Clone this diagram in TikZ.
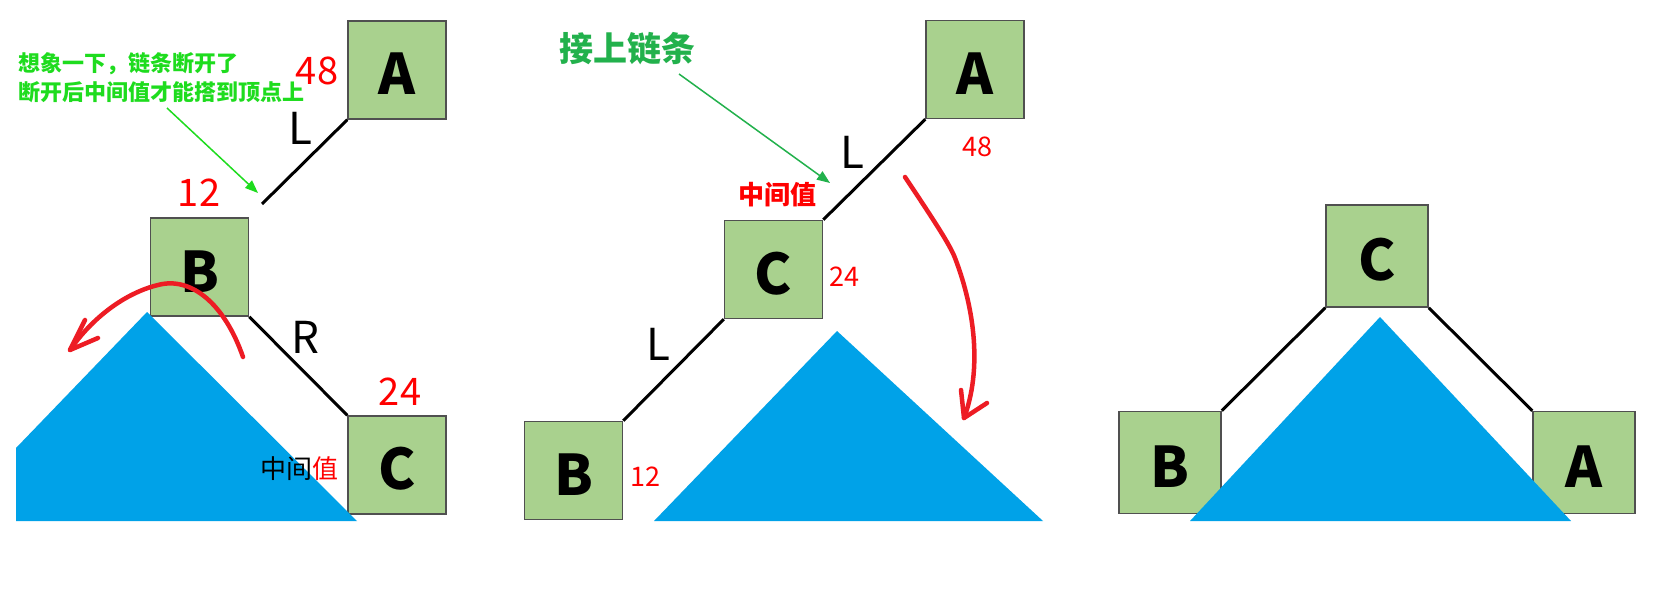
\documentclass[tikz,border=0pt]{standalone}
\usepackage{fontspec}
\setmainfont{Noto Sans CJK SC}
\usetikzlibrary{arrows.meta}
\definecolor{boxfill}{RGB}{169,209,142}
\definecolor{boxline}{RGB}{80,80,80}
\definecolor{trifill}{RGB}{0,162,232}
\definecolor{hred}{RGB}{237,28,36}
\definecolor{brightgreen}{RGB}{30,220,30}
\definecolor{darkgreen}{RGB}{34,177,76}
\begin{document}
\begin{tikzpicture}[x=1pt,y=-1pt,
  box/.style={draw=boxline, fill=boxfill, line width=1.5pt, minimum width=98pt, minimum height=98pt, inner sep=0pt, font=\fontsize{56}{60}\selectfont\bfseries, text height=50pt},
  bigbox/.style={box, minimum width=102pt, minimum height=102pt},
  link/.style={line width=3pt, black},
  trishape/.style={fill=trifill, draw=none},
  bignum/.style={text=red, font=\fontsize{38}{40}\selectfont, inner sep=0pt},
  smallnum/.style={text=red, font=\fontsize{27}{28}\selectfont, inner sep=0pt},
  edgelab/.style={font=\fontsize{44}{46}\selectfont, inner sep=0pt},
  redarc/.style={hred, line width=4.5pt, line cap=round, line join=round},
  greenarrow/.style={line width=1.5pt, -{Triangle[length=13pt,width=10pt]}},
]
\useasboundingbox (0,0) rectangle (1656,596);
\fill[white] (0,0) rectangle (1656,596);

% ---------- panel 1 ----------
\node[box] (A1) at (397,70) {A};
\node[box] (B1) at (199.5,267) {B};
\node[box] (C1) at (397,465) {C};
\coordinate (brk) at (262,204);
\draw[link] (A1.south west) -- (brk);
\draw[link] (B1.south east) -- (C1.north west);
\fill[trishape] (16,448) -- (147,312) -- (357,521) -- (16,521) -- cycle;

\node[bignum] (n48a) at (317,71) {48};
\node[bignum] (n12a) at (199,193) {12};
\node[bignum] (n24a) at (400,392) {24};
\node[edgelab] (La) at (300,128) {L};
\node[edgelab] (Ra) at (305,337) {R};
\node[font=\fontsize{26}{28}\selectfont, inner sep=0pt] (mid1) at (299,469) {中间\textcolor{red}{值}};

\node[anchor=west, align=left, text=brightgreen, font=\fontsize{22}{29}\selectfont\bfseries, inner sep=0pt] (gtext) at (18,78) {想象一下，链条断开了\\断开后中间值才能搭到顶点上};
\coordinate (g1s) at (167,108);
\coordinate (g1e) at (258,193);
\draw[greenarrow, brightgreen] (g1s) -- (g1e);

\coordinate (r1s) at (243,357);
\coordinate (r1p) at (158,285);
\coordinate (r1t) at (70,350);
\draw[redarc] (r1s) .. controls (225,305) and (192,276) .. (r1p) .. controls (125,293) and (92,318) .. (r1t);
\draw[redarc] (85,320) -- (r1t) -- (98,338);

% ---------- panel 2 ----------
\node[box] (A2) at (975,69.5) {A};
\node[box] (C2) at (773.5,269.5) {C};
\node[box] (B2) at (573.5,470.5) {B};
\draw[link] (A2.south west) -- (C2.north east);
\draw[link] (C2.south west) -- (B2.north east);
\fill[trishape] (654,521) -- (837,331) -- (1043,521) -- cycle;

\node[smallnum] (n48b) at (977,147) {48};
\node[smallnum] (n24b) at (844,277) {24};
\node[smallnum] (n12b) at (645,477) {12};
\node[edgelab] (Lb1) at (852,152) {L};
\node[edgelab] (Lb2) at (658,344) {L};
\node[text=red, font=\fontsize{26}{28}\selectfont\bfseries, inner sep=0pt] (mid2) at (777,195) {中间值};
\node[text=darkgreen, font=\fontsize{34}{36}\selectfont\bfseries, inner sep=0pt] (gtext2) at (627,49) {接上链条};
\coordinate (g2s) at (679,74);
\coordinate (g2e) at (830,183);
\draw[greenarrow, darkgreen] (g2s) -- (g2e);

\coordinate (r2s) at (905,177);
\coordinate (r2m) at (955,258);
\coordinate (r2t) at (964,418);
\draw[redarc] (r2s) .. controls (935,222) and (950,245) .. (r2m) .. controls (975,310) and (982,370) .. (r2t);
\draw[redarc] (961,390) -- (r2t) -- (987,403);

% ---------- panel 3 ----------
\node[bigbox] (C3) at (1377,256) {C};
\node[bigbox] (B3) at (1170,462.5) {B};
\node[bigbox] (A3) at (1584,462.5) {A};
\draw[link] (C3.south west) -- (B3.north east);
\draw[link] (C3.south east) -- (A3.north west);
\fill[trishape] (1190,521) -- (1380,317) -- (1571,521) -- cycle;
\end{tikzpicture}
\end{document}
